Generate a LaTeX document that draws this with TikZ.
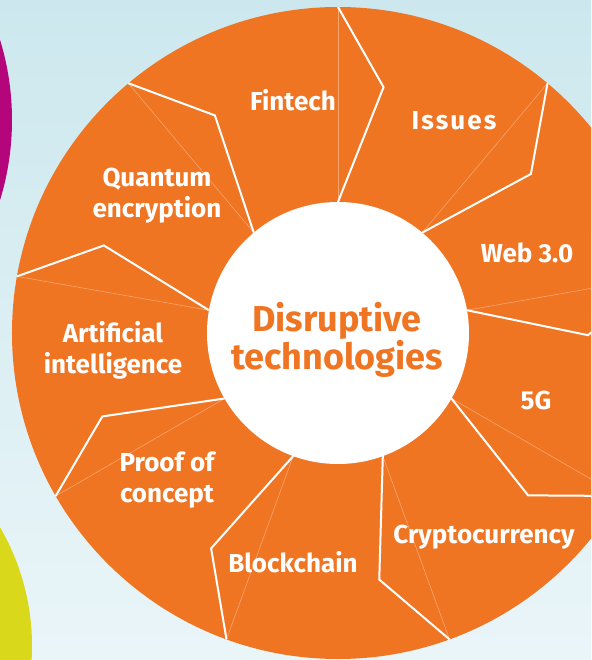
\documentclass[tikz,border=0pt]{standalone}
\usepackage{fontspec}
\setmainfont{Fira Sans}
\usepackage{tikz}

\definecolor{discorange}{HTML}{F07522}
\definecolor{bgtop}{HTML}{CCE8EE}
\definecolor{bgbot}{HTML}{EAF5F8}
\definecolor{blobpink}{HTML}{B4067A}
\definecolor{blobyellow}{HTML}{DAD81A}

\begin{document}
\begin{tikzpicture}[x=1pt,y=1pt,
  lbl/.style={text=white, font=\fontsize{26}{31}\selectfont\bfseries, align=center, inner sep=0pt},
  title/.style={text=discorange, font=\fontsize{36}{38}\selectfont\bfseries, align=center, inner sep=0pt},
  sep/.style={white, line width=2pt, line join=miter},
  faint/.style={white, opacity=0.35, line width=0.6pt}]

\useasboundingbox (-338,-327) rectangle (253,333);
\clip (-338,-327) rectangle (253,333);
\shade[top color=bgtop, bottom color=bgbot] (-338,-327) rectangle (253,333);

% blobs at the left edge
\fill[blobpink] (-599,213) circle (273);
\fill[blobyellow] (-542,-313) circle (236);

% the disc
\fill[discorange] (0,0) circle (326);
\foreach \a in {90,50,...,-230}{
  \draw[faint] (\a:131) -- (\a:326);
  \draw[sep] (\a:131) -- (\a-10.5:250) -- (\a:326);
}
\fill[white] (0,0) circle (131);

\node[title] (hub) at (-1,-7) {Disruptive\\technologies};

\node[lbl] (fintech) at (-45,233) {Fintech};
\node[lbl] (issues) at (116,212) {\addfontfeature{LetterSpace=8}Issues};
\node[lbl] (web) at (189,80) {Web 3.0};
\node[lbl] (fiveg) at (198,-67) {5G};
\node[lbl] (crypto) at (146,-204) {Cryptocurrency};
\node[lbl] (chain) at (-45,-229) {Blockchain};
\node[lbl] (proof) at (-171,-147) {Proof of\\concept};
\node[lbl] (ai) at (-225,-17) {Artificial\\intelligence};
\node[lbl] (quantum) at (-181,137) {Quantum\\encryption};
\end{tikzpicture}
\end{document}
